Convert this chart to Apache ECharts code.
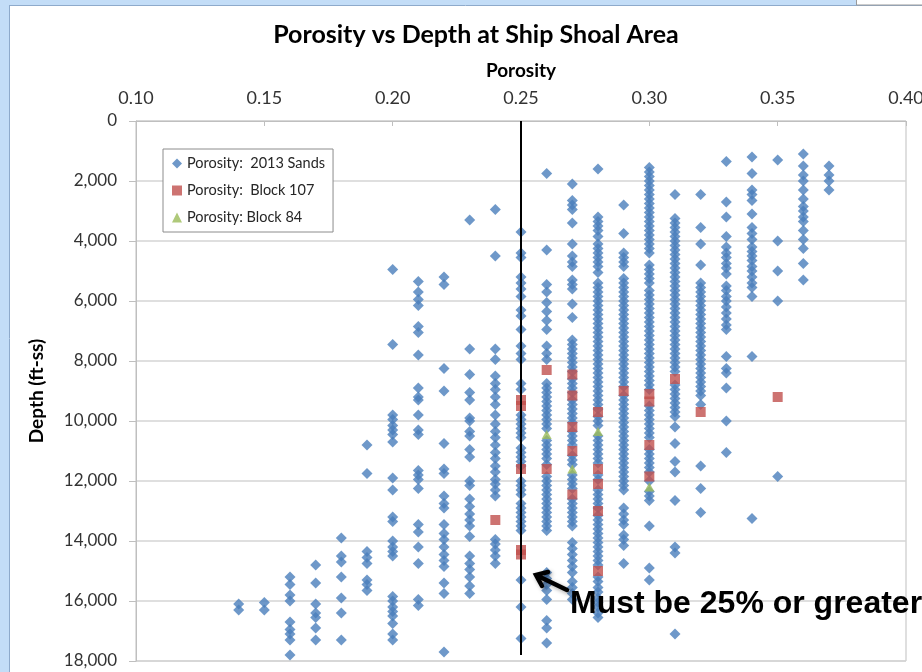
<!DOCTYPE html>
<html>
<head>
<meta charset="utf-8">
<script src="https://cdn.jsdelivr.net/npm/echarts@6/dist/echarts.min.js"></script>
<style>
html,body{margin:0;padding:0;background:#fff;}
#chart{width:922px;height:672px;}
</style>
</head>
<body>
<div id="chart"></div>
<script>
// ---- Data: 2013 Sands, depth values per porosity column ----
const sands14 = [16100, 16300];
const sands15 = [16050, 16300];
const sands16 = [15200, 15450, 15800, 16000, 16700, 16950, 17100, 17300, 17800];
const sands17 = [14800, 15400, 16100, 16400, 16550, 16900, 17300];
const sands18 = [13900, 14500, 14700, 15200, 15900, 16400, 17300];
const sands19 = [10800, 11750, 14350, 14550, 14750, 15300, 15450, 15650];
const sands20 = [4950, 7450, 9800, 9950, 10150, 10300, 10450, 10700, 11900, 12300, 13200, 13350, 14000, 14200, 14350, 14500, 15850, 16000, 16200, 16350, 16500, 16750, 17100, 17300];
const sands21 = [5350, 5700, 5950, 6150, 6850, 7050, 7800, 8900, 9200, 9300, 9800, 10300, 10450, 11650, 11800, 11950, 12250, 13450, 13700, 14200, 14750, 15950, 16150];
const sands22 = [5200, 5450, 8250, 9000, 10750, 11600, 11750, 12500, 12750, 12900, 13450, 13750, 13950, 14200, 14450, 14650, 14850, 15400, 15750, 17700];
const sands23 = [3300, 7600, 8450, 9050, 9300, 9900, 10000, 10350, 10500, 10950, 11200, 12000, 12150, 12600, 12850, 13100, 13300, 13500, 13850, 14500, 14750, 14950, 15200, 15500, 15750];
const sands24 = [2950, 4500, 7600, 7950, 8500, 8750, 8950, 9200, 9450, 9800, 10100, 10350, 10550, 10800, 11050, 11250, 11500, 11700, 11950, 12100, 12300, 12500, 13950, 14100, 14300, 14500, 14750];
const sands25 = [3700, 4400, 4550, 5200, 5400, 5600, 5850, 6300, 6500, 6950, 7500, 7750, 7950, 8750, 8950, 9800, 9950, 10100, 10250, 10400, 10550, 10900, 11050, 11200, 11350, 11500, 12000, 12150, 12300, 12450, 12750, 12900, 13050, 13200, 13350, 13500, 13650, 15300, 16200, 17250];
const sands26 = [1750, 4300, 5450, 5700, 6050, 6350, 6650, 6950, 7500, 7750, 7950, 8750, 8900, 9050, 9200, 9350, 9500, 9650, 9800, 9950, 10100, 10250, 10650, 10800, 10950, 11100, 11250, 11450, 11850, 12000, 12150, 12300, 12450, 12600, 12750, 12900, 13050, 13200, 13350, 13500, 13650, 15050, 15250, 15450, 15650, 15950, 16650, 16900, 17400];
const sands27 = [2100, 2650, 2800, 2950, 3400, 4100, 4500, 4700, 4850, 5300, 5450, 5600, 6100, 6550, 7300, 7450, 7600, 7750, 7900, 8050, 8200, 8350, 8600, 8750, 8900, 9050, 9300, 9450, 9600, 9750, 9900, 10050, 10350, 10500, 10650, 10800, 11150, 11300, 11450, 11800, 11950, 12100, 12250, 12600, 12750, 12900, 13050, 13200, 13350, 13500, 14050, 14250, 14450, 14650, 14850, 15050, 15350, 15550, 15750, 15950];
const sands28 = [1600, 3200, 3350, 3500, 3650, 3850, 4100, 4250, 4400, 4550, 4700, 4850, 5050, 5400, 5550, 5700, 5850, 6000, 6150, 6300, 6450, 6600, 6750, 6900, 7050, 7200, 7350, 7500, 7650, 7800, 7950, 8100, 8250, 8400, 8550, 8700, 8850, 9000, 9150, 9300, 9450, 9600, 9850, 10000, 10150, 10500, 10650, 10800, 10950, 11100, 11250, 11400, 11800, 11950, 12300, 12450, 12600, 12750, 12900, 13150, 13300, 13450, 13600, 13750, 13900, 14050, 14200, 14350, 14500, 14650, 14800, 15200, 15350, 15550, 15700, 15900, 16050, 16200, 16400, 16550];
const sands29 = [2800, 3750, 4400, 4550, 4700, 4850, 5250, 5400, 5550, 5700, 5850, 6000, 6150, 6300, 6450, 6600, 6750, 6900, 7050, 7200, 7350, 7500, 7650, 7800, 7950, 8100, 8250, 8400, 8550, 8700, 8850, 9150, 9300, 9450, 9600, 9750, 9900, 10050, 10200, 10350, 10500, 10650, 10800, 10950, 11100, 11250, 11400, 11550, 11700, 11850, 12000, 12150, 12300, 12900, 13100, 13300, 13450, 13800, 13950, 14150, 14750];
const sands30 = [1550, 1700, 1850, 2000, 2150, 2300, 2450, 2600, 2750, 2900, 3050, 3200, 3350, 3500, 3650, 3800, 3950, 4100, 4250, 4400, 4800, 4950, 5100, 5250, 5400, 5650, 5800, 5950, 6100, 6250, 6400, 6550, 6700, 6850, 7000, 7150, 7300, 7450, 7600, 7750, 7900, 8050, 8200, 8350, 8500, 8650, 8800, 8950, 9500, 9650, 9800, 9950, 10100, 10250, 10400, 10550, 10950, 11100, 11250, 11400, 11550, 11700, 12000, 12350, 12500, 12650, 13500, 14900, 15300];
const sands31 = [2450, 3250, 3400, 3550, 3700, 3850, 4000, 4150, 4300, 4450, 4600, 4750, 4900, 5050, 5200, 5350, 5500, 5650, 5800, 5950, 6100, 6250, 6400, 6550, 6700, 6850, 7000, 7150, 7300, 7450, 7600, 7750, 7900, 8050, 8200, 8350, 8800, 8950, 9100, 9250, 9400, 9550, 9700, 9850, 10200, 10750, 11350, 11700, 12650, 14200, 14400, 17100];
const sands32 = [2450, 3550, 4100, 4800, 5400, 5550, 5700, 5850, 6000, 6150, 6300, 6450, 6600, 6750, 6900, 7050, 7200, 7350, 7500, 7650, 7800, 7950, 8100, 8250, 8400, 8550, 8700, 8850, 9000, 9150, 9450, 11500, 12250, 13050];
const sands33 = [1350, 2700, 3200, 3850, 4200, 4400, 4550, 4750, 4900, 5100, 5500, 5650, 5850, 6000, 6200, 6400, 6600, 6800, 6950, 7850, 8250, 8400, 8900, 10000, 11050];
const sands34 = [1200, 1750, 2300, 2450, 2650, 3100, 3550, 3750, 3950, 4200, 4350, 4500, 4650, 4850, 5000, 5200, 5400, 5550, 5850, 7850, 13250];
const sands35 = [1300, 4000, 5000, 6000, 11850];
const sands36 = [1100, 1500, 1800, 2000, 2300, 2600, 2850, 3000, 3200, 3350, 3650, 3950, 4250, 4750, 5300];
const sands37 = [1500, 1800, 2000, 2300];

const sandColumns = [
  [0.14, sands14], [0.15, sands15], [0.16, sands16], [0.17, sands17], [0.18, sands18],
  [0.19, sands19], [0.20, sands20], [0.21, sands21], [0.22, sands22], [0.23, sands23],
  [0.24, sands24], [0.25, sands25], [0.26, sands26], [0.27, sands27], [0.28, sands28],
  [0.29, sands29], [0.30, sands30], [0.31, sands31], [0.32, sands32], [0.33, sands33],
  [0.34, sands34], [0.35, sands35], [0.36, sands36], [0.37, sands37]
];

// ---- Block 107 ----
const block107Porosity = [0.24, 0.25, 0.25, 0.25, 0.25, 0.25, 0.26, 0.26, 0.27, 0.27, 0.27, 0.27, 0.27, 0.28, 0.28, 0.28, 0.28, 0.28, 0.29, 0.30, 0.30, 0.30, 0.30, 0.31, 0.32, 0.35];
const block107Depth    = [13300, 9300, 9500, 11600, 14300, 14450, 8300, 11600, 8450, 9150, 10200, 11000, 12450, 9700, 11600, 12100, 13000, 15000, 9000, 9100, 9350, 10800, 11850, 8600, 9700, 9200];

// ---- Block 84 ----
const block84Porosity = [0.26, 0.27, 0.28, 0.30];
const block84Depth    = [10450, 11600, 10350, 12200];

// ---- Cutoff line ----
const cutoffPorosity = [0.25, 0.25];
const cutoffDepth = [0, 17800];

// ---- Axis ticks ----
const xTicks = [0.10, 0.15, 0.20, 0.25, 0.30, 0.35, 0.40];
const yTicks = [0, 2000, 4000, 6000, 8000, 10000, 12000, 14000, 16000, 18000];

const sandsData = [];
sandColumns.forEach(([p, ds]) => ds.forEach(d => sandsData.push([p, d])));
const b107Data = block107Porosity.map((p, i) => [p, block107Depth[i]]);
const b84Data = block84Porosity.map((p, i) => [p, block84Depth[i]]);
const cutoffData = cutoffPorosity.map((p, i) => [p, cutoffDepth[i]]);

const FONT = 'Lato, "Noto Sans", sans-serif';
const chart = echarts.init(document.getElementById('chart'), null, {renderer: 'canvas'});

chart.setOption({
  animation: false,
  backgroundColor: '#ffffff',
  title: {
    text: 'Porosity vs Depth at Ship Shoal Area',
    left: 471, top: 17, textAlign: 'center',
    textStyle: {fontFamily: FONT, fontSize: 25, fontWeight: 'bold', color: '#000'}
  },
  legend: {
    orient: 'vertical', left: 163, top: 149,
    padding: [7, 8, 7, 9], itemGap: 12, itemWidth: 10, itemHeight: 10,
    borderColor: '#8c8c8c', borderWidth: 1, backgroundColor: '#fff',
    textStyle: {fontFamily: FONT, fontSize: 14.5, color: '#262626'},
    data: [
      {name: 'Porosity:  2013 Sands', icon: 'diamond'},
      {name: 'Porosity:  Block 107', icon: 'rect'},
      {name: 'Porosity: Block 84', icon: 'triangle'}
    ]
  },
  grid: {left: 136, top: 121, width: 770, height: 540, outerBoundsMode: 'none', containLabel: false,
    show: true, borderColor: '#bfbfbf', borderWidth: 1, backgroundColor: '#fff'},
  xAxis: {
    type: 'value', position: 'top',
    min: xTicks[0], max: xTicks[xTicks.length - 1], interval: 0.05,
    name: 'Porosity', nameLocation: 'middle', nameGap: 41,
    nameTextStyle: {fontFamily: FONT, fontSize: 19, fontWeight: 'bold', color: '#000'},
    axisLine: {show: true, lineStyle: {color: '#bfbfbf', width: 1}},
    axisTick: {show: true, inside: true, length: 5, lineStyle: {color: '#bfbfbf'}},
    axisLabel: {margin: 14, fontFamily: FONT, fontSize: 18, color: '#333', showMaxLabel: true, showMinLabel: true,
      formatter: v => v.toFixed(2)},
    splitLine: {show: false}
  },
  yAxis: {
    type: 'value', inverse: true,
    min: yTicks[0], max: yTicks[yTicks.length - 1], interval: 2000,
    name: 'Depth (ft-ss)', nameLocation: 'middle', nameGap: 90, nameRotate: 90,
    nameTextStyle: {fontFamily: FONT, fontSize: 19, fontWeight: 'bold', color: '#000'},
    axisLine: {show: true, lineStyle: {color: '#bfbfbf', width: 1}},
    axisTick: {show: true, inside: false, length: 7, lineStyle: {color: '#bfbfbf'}},
    axisLabel: {margin: 19, fontFamily: FONT, fontSize: 17, color: '#333',
      formatter: v => v.toLocaleString('en-US')},
    splitLine: {show: true, lineStyle: {color: '#d4d4d4', width: 1.5}}
  },
  series: [
    {name: 'Porosity:  2013 Sands', type: 'scatter', data: sandsData, symbol: 'diamond', symbolSize: 11,
     itemStyle: {color: '#4a7ebb'}, z: 2},
    {name: 'Porosity:  Block 107', type: 'scatter', data: b107Data, symbol: 'rect', symbolSize: 10,
     itemStyle: {color: '#c0504d'}, z: 3},
    {name: 'Porosity: Block 84', type: 'scatter', data: b84Data, symbol: 'triangle', symbolSize: [10, 9],
     itemStyle: {color: '#9bbb59'}, z: 4},
    {name: 'cutoff', type: 'line', data: cutoffData, symbol: 'none', silent: true,
     lineStyle: {color: '#000', width: 2}, z: 5}
  ],
  graphic: [
    {type: 'rect', left: 0, top: 0, shape: {width: 9, height: 672}, style: {fill: '#c3ddf7'}, z: 10},
    {type: 'rect', left: 0, top: 0, shape: {width: 922, height: 5}, style: {fill: '#c3ddf7'}, z: 10},
    {type: 'line', shape: {x1: 9.5, y1: 5, x2: 9.5, y2: 672}, style: {stroke: '#8eaacb', lineWidth: 1}, z: 11},
    {type: 'line', shape: {x1: 9, y1: 5.5, x2: 922, y2: 5.5}, style: {stroke: '#8eaacb', lineWidth: 1}, z: 11},
    {type: 'rect', shape: {x: 856.5, y: -2, width: 70, height: 7}, style: {fill: '#fff', stroke: '#9a9a9a', lineWidth: 1}, z: 12},
    {type: 'polyline', shape: {points: [[567, 590], [538, 576]]},
     style: {stroke: '#000', lineWidth: 4.5, lineCap: 'round', shadowBlur: 4, shadowColor: 'rgba(0,0,0,0.35)', shadowOffsetX: 2, shadowOffsetY: 2}, z: 20},
    {type: 'polyline', shape: {points: [[548, 572], [536, 575], [542, 586]]},
     style: {stroke: '#000', lineWidth: 4.5, lineCap: 'round', lineJoin: 'miter', fill: null, shadowBlur: 4, shadowColor: 'rgba(0,0,0,0.35)', shadowOffsetX: 2, shadowOffsetY: 2}, z: 20},
    {type: 'text', left: 570, top: 588,
     style: {text: 'Must be 25% or greater', fontFamily: '"Liberation Sans", Arial, sans-serif', fontSize: 32, fontWeight: 'bold', fill: '#000'}, z: 20}
  ]
});
</script>
</body>
</html>
